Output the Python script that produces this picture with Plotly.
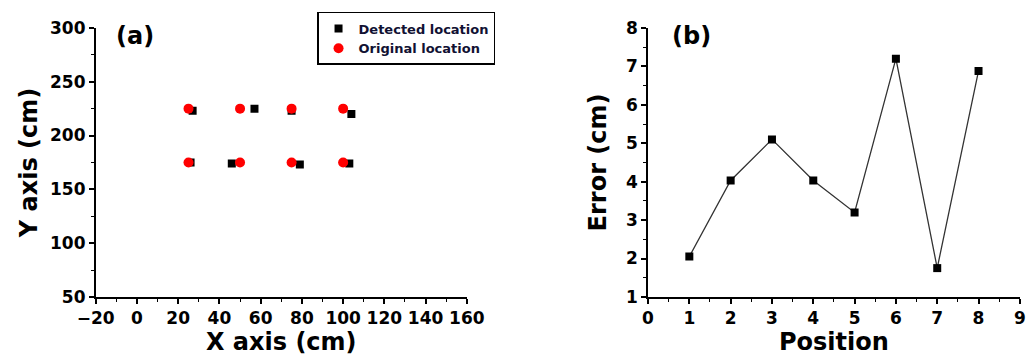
import plotly.graph_objects as go

# Panel (a) data
orig_x = [25, 50, 75, 100, 25, 50, 75, 100]
orig_y = [225, 225, 225, 225, 175, 175, 175, 175]
det_x = [27, 57, 75, 104, 26, 46, 79, 103]
det_y = [223, 225, 223, 220, 175, 174, 173, 174]

# Panel (b) data
position = [1, 2, 3, 4, 5, 6, 7, 8]
error_cm = [2.05, 4.03, 5.1, 4.03, 3.2, 7.2, 1.75, 6.88]

FONT = "DejaVu Sans, Liberation Sans, sans-serif"

fig = go.Figure()
fig.add_trace(go.Scatter(x=det_x, y=det_y, mode="markers", name="Detected location",
                         marker=dict(symbol="square", size=8, color="black"),
                         xaxis="x", yaxis="y"))
fig.add_trace(go.Scatter(x=orig_x, y=orig_y, mode="markers", name="Original location",
                         marker=dict(symbol="circle", size=10, color="#ff0000"),
                         xaxis="x", yaxis="y"))
fig.add_trace(go.Scatter(x=position, y=error_cm, mode="lines+markers", showlegend=False,
                         line=dict(color="#333333", width=1.3),
                         marker=dict(symbol="square", size=8, color="black"),
                         xaxis="x2", yaxis="y2"))

tickfont = dict(family=FONT, size=17, color="black", weight="bold")
titlefont = dict(family=FONT, size=24, color="black", weight="bold")

def ax(**kw):
    d = dict(showline=True, linecolor="black", linewidth=1.6, ticks="outside",
             ticklen=5, tickwidth=1.5, tickcolor="black", showgrid=False, zeroline=False,
             tickfont=tickfont, mirror=False, automargin=False,
             minor=dict(ticks="outside", ticklen=3, tickwidth=1.2, tickcolor="black", showgrid=False))
    d.update(kw)
    return d

fig.update_layout(
    width=1026, height=363,
    margin=dict(l=0, r=0, t=0, b=0),
    paper_bgcolor="white", plot_bgcolor="white",
    xaxis=ax(domain=[0.0933, 0.455], range=[-20, 160], dtick=20, tick0=-20,
             minor_dtick=10, anchor="y",
             title=dict(text="X axis (cm)", font=titlefont, standoff=6)),
    yaxis=ax(domain=[0.182, 0.923], range=[50, 300], dtick=50, tick0=50,
             minor_dtick=25, anchor="x",
             title=dict(text="Y axis (cm)", font=titlefont, standoff=6)),
    xaxis2=ax(domain=[0.6316, 0.994], range=[0, 9], dtick=1, tick0=0,
              minor_dtick=0.5, anchor="y2",
              title=dict(text="Position", font=titlefont, standoff=4)),
    yaxis2=ax(domain=[0.182, 0.923], range=[1, 8], dtick=1, tick0=1,
              minor_dtick=0.5, anchor="x2",
              title=dict(text="Error (cm)", font=titlefont, standoff=13)),
    legend=dict(x=0.309, y=0.967, xanchor="left", yanchor="top",
                bordercolor="black", borderwidth=1.5, bgcolor="white",
                font=dict(family=FONT, size=13, color="#111133", weight="bold"),
                tracegroupgap=0, itemwidth=30),
    showlegend=True,
    annotations=[
        dict(text="(a)", x=0.111, y=0.945, xref="paper", yref="paper", xanchor="left",
             yanchor="top", showarrow=False,
             font=dict(family=FONT, size=24, color="black", weight="bold")),
        dict(text="(b)", x=0.653, y=0.945, xref="paper", yref="paper", xanchor="left",
             yanchor="top", showarrow=False,
             font=dict(family=FONT, size=24, color="black", weight="bold")),
    ],
)

fig.write_html("out.html")
